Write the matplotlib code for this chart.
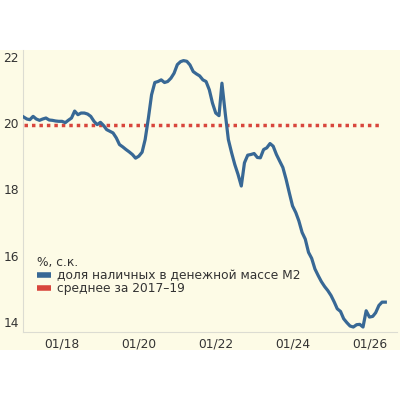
import numpy as np
import pandas as pd
import matplotlib
matplotlib.use("Agg")
import matplotlib.pyplot as plt
import matplotlib.dates as mdates
from matplotlib.lines import Line2D
from matplotlib.patches import Rectangle


# monthly share of cash in M2, %, sa (from 01/2017)
start_month = "2017-01-01"
cash_share = [
    20.18, 20.12, 20.10, 20.20, 20.12, 20.08, 20.12, 20.15, 20.09, 20.08, 20.06, 20.05,
    20.05, 20.01, 20.08, 20.15, 20.36, 20.25, 20.30, 20.30, 20.27, 20.20, 20.05, 19.95,
    20.02, 19.92, 19.80, 19.75, 19.70, 19.55, 19.35, 19.28, 19.20, 19.13, 19.05, 18.94,
    19.00, 19.12, 19.50, 20.15, 20.85, 21.22, 21.25, 21.30, 21.22, 21.25, 21.35, 21.50,
    21.76, 21.85, 21.88, 21.86, 21.75, 21.55, 21.48, 21.42, 21.30, 21.25, 21.00, 20.60,
    20.30, 20.22, 21.20, 20.30, 19.50, 19.10, 18.75, 18.45, 18.10, 18.80, 19.03, 19.05,
    19.08, 18.96, 18.95, 19.20, 19.25, 19.38, 19.30, 19.05, 18.85, 18.66, 18.30, 17.90,
    17.50, 17.30, 17.05, 16.70, 16.50, 16.10, 15.92, 15.60, 15.40, 15.22, 15.07, 14.95,
    14.80, 14.60, 14.40, 14.32, 14.10, 13.98, 13.88, 13.85, 13.92, 13.93, 13.85, 14.34,
    14.15, 14.17, 14.28, 14.50, 14.60, 14.60,
]
avg_2017_19 = 19.93
avg_line_end = "2026-04-01"

tick_years = [2018, 2020, 2022, 2024, 2026]
y_ticks = [14, 16, 18, 20, 22]

labels = ["доля наличных в денежной массе М2", "среднее за 2017–19"]
legend_title = "%, с.к."

BLUE = "#386895"
RED = "#d8463d"
CREAM = "#fdfbe6"
TXT = "#333333"

dates = pd.date_range(start_month, periods=len(cash_share), freq="MS")

fig = plt.figure(figsize=(4, 4), dpi=100)
fig.patch.set_facecolor("white")
fig.add_artist(Rectangle((0, 0.125), 1, 0.75, transform=fig.transFigure,
                         facecolor=CREAM, edgecolor="none", zorder=0))

ax = fig.add_axes([0.0575, 0.17, 0.935, 0.705])
ax.set_facecolor(CREAM)

ax.plot(dates, cash_share, color=BLUE, lw=2.3, solid_joinstyle="round", zorder=3)
ax.plot([dates[0], pd.Timestamp(avg_line_end)], [avg_2017_19, avg_2017_19],
        color=RED, lw=2.5, linestyle=(0, (1, 1.15)), zorder=2)

ax.set_xlim(dates[0] - pd.Timedelta(days=6), pd.Timestamp("2026-09-20"))
ax.set_ylim(13.7, 22.2)

ax.set_xticks([pd.Timestamp(f"{y}-01-01") for y in tick_years])
ax.xaxis.set_major_formatter(mdates.DateFormatter("%m/%y"))
ax.set_yticks(y_ticks)
ax.tick_params(axis="both", length=0, labelsize=8.8, colors=TXT)
ax.tick_params(axis="y", pad=3)
ax.tick_params(axis="x", pad=4)

for side in ["top", "right"]:
    ax.spines[side].set_visible(False)
for side in ["left", "bottom"]:
    ax.spines[side].set_color("#dcdcd2")
    ax.spines[side].set_linewidth(0.8)

handles = [Line2D([], [], color=BLUE, lw=4, solid_capstyle="butt"),
           Line2D([], [], color=RED, lw=4, solid_capstyle="butt")]
leg = ax.legend(handles, labels, title=legend_title, loc="upper left",
                bbox_to_anchor=(0.015, 0.30), frameon=False, fontsize=8.8,
                title_fontsize=8.8, alignment="left", handlelength=1.1,
                handletextpad=0.5, labelspacing=0.02, borderpad=0.2)
for t in leg.get_texts():
    t.set_color(TXT)
leg.get_title().set_color(TXT)

fig.savefig("out.png", dpi=100)
